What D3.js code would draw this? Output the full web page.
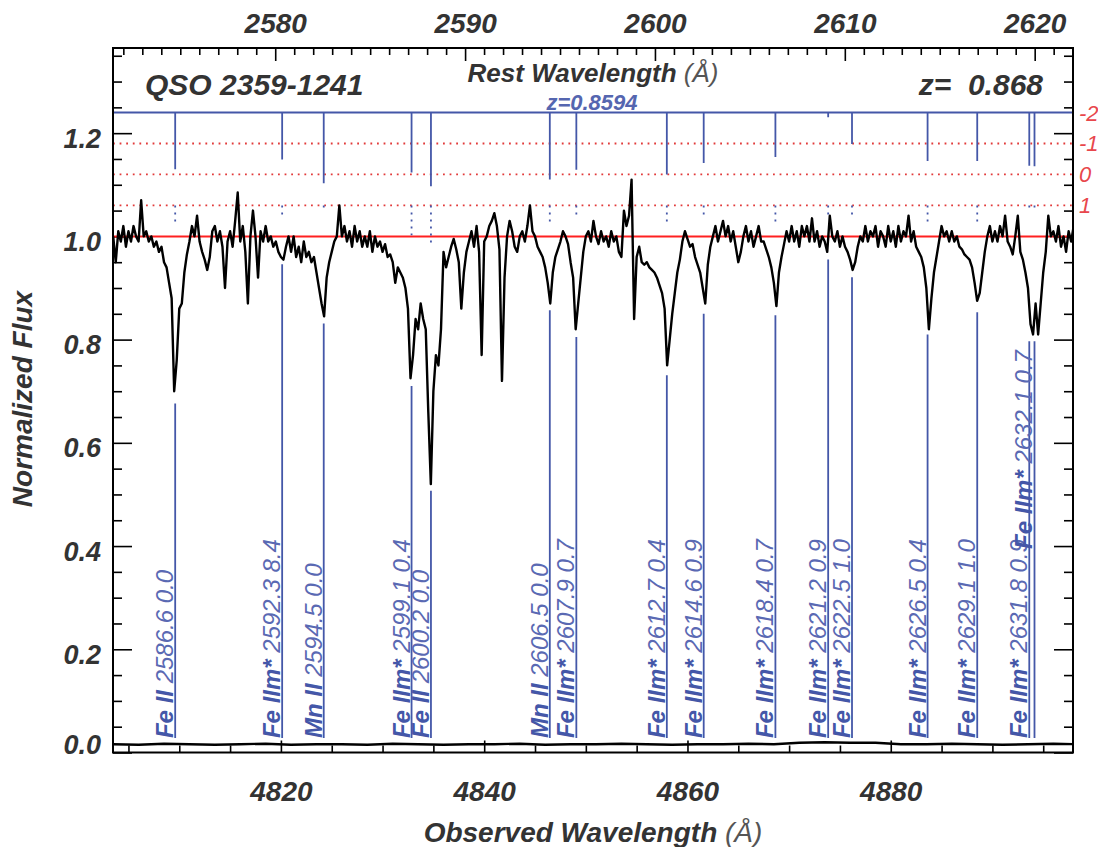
<!DOCTYPE html>
<html><head><meta charset="utf-8">
<script src="https://cdn.jsdelivr.net/npm/d3@7"></script>
<style>
body{margin:0;background:#fff}
svg{display:block}
text{font-family:"Liberation Sans",Arial,Helvetica,sans-serif}
</style>
</head><body>
<svg id="c" width="1098" height="847"></svg>
<script>
// ---------------- DATA ----------------
const zQSO = 0.868;
const zAbs = 0.8594;
const obsStart = 4803.5, obsStep = 0.25;
const flux = [
1.00,0.95,1.01,0.99,1.02,0.98,1.01,0.99,1.02,1.00,
0.99,1.07,1.00,1.01,0.99,1.00,0.98,0.99,0.97,0.98,
0.95,0.94,0.91,0.88,0.70,0.76,0.86,0.87,0.93,0.965,
0.99,1.02,1.00,1.04,0.99,0.97,0.955,0.935,0.96,1.01,
1.02,0.99,1.01,0.98,0.90,0.99,1.01,0.98,1.03,1.085,
0.99,1.02,0.97,0.87,1.00,1.05,1.00,0.92,1.01,0.99,
1.02,0.99,1.00,0.98,0.99,0.97,0.96,0.955,0.98,1.00,
0.97,1.00,0.96,0.98,0.95,0.99,0.96,0.97,0.95,0.96,
0.93,0.90,0.87,0.845,0.92,0.95,0.97,0.99,1.00,1.06,
1.00,1.02,0.99,1.01,0.98,1.02,0.99,1.01,0.98,1.00,
0.98,1.01,0.97,1.00,0.98,0.99,0.97,0.985,0.96,0.965,
0.95,0.91,0.94,0.93,0.92,0.90,0.86,0.725,0.77,0.84,
0.82,0.87,0.84,0.82,0.66,0.52,0.70,0.77,0.75,0.82,
0.97,0.94,0.96,0.98,0.995,0.975,0.95,0.86,0.93,0.97,
0.99,1.01,0.98,1.02,0.97,0.77,0.99,1.00,1.02,1.03,
1.045,1.02,0.975,0.72,0.92,1.00,1.03,1.01,0.98,0.97,
1.00,1.01,0.99,1.02,1.06,1.01,1.00,0.98,0.97,0.96,
0.94,0.91,0.87,0.93,0.96,0.975,0.99,1.01,1.00,0.985,
0.95,0.92,0.82,0.87,0.92,0.97,1.00,1.01,0.99,1.03,
1.00,0.985,1.01,0.99,1.00,0.98,1.01,0.99,1.00,0.97,
0.96,1.05,1.02,1.04,1.11,0.84,0.96,0.98,0.95,0.945,
0.95,0.94,0.935,0.93,0.92,0.905,0.89,0.86,0.75,0.80,
0.85,0.89,0.93,0.955,0.99,1.01,0.995,0.98,0.985,0.96,
0.945,0.93,0.90,0.87,0.945,0.98,1.00,1.02,0.99,1.01,
1.03,1.00,1.02,0.99,1.01,0.98,0.95,0.97,1.00,1.02,
0.99,1.01,0.98,1.00,1.02,0.99,0.99,0.975,0.96,0.94,
0.91,0.865,0.93,0.96,0.985,1.01,0.99,1.02,0.99,1.01,
0.98,1.02,1.00,1.02,0.99,1.035,0.99,1.01,0.98,1.00,
0.99,0.97,1.04,1.00,0.99,1.01,0.98,1.00,0.98,0.97,
0.955,0.935,0.95,0.98,1.00,0.99,1.02,0.99,1.01,1.00,
1.02,0.98,1.01,1.00,0.98,1.02,0.99,1.01,0.98,1.02,
0.99,1.01,1.00,1.04,0.99,1.01,0.98,0.97,0.96,0.94,
0.90,0.82,0.88,0.93,0.96,0.99,1.02,1.00,1.01,0.99,
1.01,0.99,1.00,0.98,0.975,0.965,0.96,0.955,0.94,0.91,
0.875,0.89,0.93,0.97,1.00,1.02,0.99,1.01,0.99,1.02,
1.00,1.04,0.99,0.98,0.965,1.00,1.04,0.97,0.955,0.93,
0.90,0.83,0.81,0.87,0.81,0.87,0.93,0.97,1.04,1.00,
1.01,0.99,1.02,0.98,1.00,0.97,1.01,0.99,1.02
];
const errStart = 4803.5, errStep = 2.5;
const errFlux = [
0.016,0.015,0.017,0.016,0.015,0.016,0.017,0.015,0.016,0.016,
0.015,0.017,0.016,0.015,0.016,0.016,0.017,0.015,0.016,0.016,
0.017,0.016,0.015,0.016,0.016,0.017,0.016,0.019,0.020,0.019,
0.019,0.016,0.016,0.017,0.016,0.015,0.016,0.017,0.016
];
const lineIon  = ["Fe II","Fe IIm*","Mn II","Fe IIm*","Fe II","Mn II","Fe IIm*","Fe IIm*","Fe IIm*","Fe IIm*","Fe IIm*","Fe IIm*","Fe IIm*","Fe IIm*","Fe IIm*","Fe IIm*"];
const lineRest = [2586.64,2592.30,2594.50,2599.147,2600.173,2606.462,2607.866,2612.654,2614.605,2618.399,2621.191,2622.452,2626.451,2629.078,2631.832,2632.108];
const lineVal  = [0.0,8.4,0.0,0.4,0.0,0.0,0.7,0.4,0.9,0.7,0.9,1.0,0.4,1.0,0.9,0.7];
const tickEnd  = [1.130,1.149,1.103,1.124,1.097,1.110,1.129,1.120,1.142,1.154,1.231,1.179,1.146,1.146,1.137,1.136];
const dotEnd   = [1.028,1.041,1.050,1.002,0.986,1.028,1.041,1.028,1.041,1.026,1.041,1.041,1.026,1.026,1.052,1.052];
const markTop  = [0.676,0.946,0.831,0.710,0.507,0.857,0.805,0.731,0.850,0.847,0.955,0.921,0.810,0.853,0.797,0.797];
const sigmaLabels = ["-2","-1","0","1"];
const sigmaFlux   = [1.24,1.18,1.12,1.06];
const yMajor = [0.0,0.2,0.4,0.6,0.8,1.0,1.2];
const obsMajor = [4820,4840,4860,4880];
const restMajor = [2580,2590,2600,2610,2620];

// ---------------- LAYOUT ----------------
const L=113,R=1073,T=48,B=752.5;
const svg = d3.select("#c");
const x = d3.scaleLinear().domain([4803.48,4897.93]).range([L,R]);
const xr = d3.scaleLinear().domain(x.domain().map(v=>v/(1+zQSO))).range([L,R]);
const y = d3.scaleLinear().domain([0,1.365]).range([B,T]);
const TXT="#333";

svg.append("defs").append("clipPath").attr("id","clip")
  .append("rect").attr("x",L).attr("y",T).attr("width",R-L).attr("height",B-T);

function styleAxis(g){ g.select(".domain").remove(); g.selectAll(".tick line").attr("stroke","#000").attr("stroke-width",1.6); }
function labelStyle(g,size){ g.selectAll("text").attr("fill",TXT).attr("font-size",size).attr("font-style","italic").attr("font-weight","bold").attr("font-family","Liberation Sans, Arial, sans-serif"); }

const obsMinor = d3.range(4805,4898,5).filter(v=>!obsMajor.includes(v));
const restMinor = d3.range(2572,2623,1).filter(v=>!restMajor.includes(v));
const yMinor = d3.range(0.05,1.37,0.05).map(v=>+v.toFixed(2)).filter(v=>!yMajor.some(m=>Math.abs(m-v)<1e-6));

// bottom
svg.append("g").attr("transform",`translate(0,${B})`).call(d3.axisBottom(x).tickValues(obsMinor).tickSize(-7).tickFormat("")).call(styleAxis);
svg.append("g").attr("transform",`translate(0,${B})`).call(d3.axisBottom(x).tickValues(obsMajor).tickSize(-12).tickPadding(29).tickFormat(d3.format("d")))
  .call(styleAxis).call(g=>labelStyle(g,28));
// top
svg.append("g").attr("transform",`translate(0,${T})`).call(d3.axisTop(xr).tickValues(restMinor).tickSize(-7).tickFormat("")).call(styleAxis);
svg.append("g").attr("transform",`translate(0,${T})`).call(d3.axisTop(xr).tickValues(restMajor).tickSize(-13).tickPadding(15).tickFormat(d3.format("d")))
  .call(styleAxis).call(g=>labelStyle(g,28));
// left
svg.append("g").attr("transform",`translate(${L},0)`).call(d3.axisLeft(y).tickValues(yMinor).tickSize(-9).tickFormat("")).call(styleAxis);
const gl = svg.append("g").attr("transform",`translate(${L},0)`).call(d3.axisLeft(y).tickValues(yMajor).tickSize(-19).tickPadding(12).tickFormat(d3.format(".1f")))
  .call(styleAxis).call(g=>labelStyle(g,27));
gl.selectAll("text").attr("dy",d=> d===0 ? "0.02em" : "0.52em");
// right
svg.append("g").attr("transform",`translate(${R},0)`).call(d3.axisRight(y).tickValues(yMinor).tickSize(-9).tickFormat("")).call(styleAxis);
svg.append("g").attr("transform",`translate(${R},0)`).call(d3.axisRight(y).tickValues(yMajor).tickSize(-19).tickFormat("")).call(styleAxis);

const plot = svg.append("g").attr("clip-path","url(#clip)");

// sigma reference lines
plot.selectAll(".sig").data(sigmaFlux.slice(1)).enter().append("line")
  .attr("x1",L).attr("x2",R).attr("y1",d=>y(d)).attr("y2",d=>y(d))
  .attr("stroke","#e23a3a").attr("stroke-width",1.8).attr("stroke-dasharray","1.8,4.8");
plot.append("line").attr("x1",L).attr("x2",R).attr("y1",y(1.0)).attr("y2",y(1.0))
  .attr("stroke","#ff2020").attr("stroke-width",2);
plot.append("line").attr("x1",L).attr("x2",R).attr("y1",y(sigmaFlux[0])).attr("y2",y(sigmaFlux[0]))
  .attr("stroke","#4457a8").attr("stroke-width",1.8);

// absorption line markers
const BLUE="#4457a8", LBLUE="#5a69b3";
const labelBase = 0.028;
const lx = lineRest.map(r=>x(r*(1+zAbs)));
lineRest.forEach((r,i)=>{
  const xp = lx[i];
  plot.append("line").attr("x1",xp).attr("x2",xp).attr("y1",y(sigmaFlux[0])).attr("y2",y(tickEnd[i]))
    .attr("stroke",BLUE).attr("stroke-width",1.8);
  plot.append("line").attr("x1",xp).attr("x2",xp).attr("y1",y(sigmaFlux[3])).attr("y2",y(dotEnd[i]))
    .attr("stroke",BLUE).attr("stroke-width",1.8).attr("stroke-dasharray","2,5");
  plot.append("line").attr("x1",xp).attr("x2",xp).attr("y1",y(markTop[i])).attr("y2",y(labelBase))
    .attr("stroke",BLUE).attr("stroke-width",1.8);
  const top = i>0 && (xp - lx[i-1]) < 10;
  const ty = top ? y(markTop[i])+9 : y(labelBase);
  const t = svg.append("text").attr("transform",`translate(${xp-2},${ty}) rotate(-90)`)
    .attr("text-anchor", top ? "end" : "start").attr("font-size",24).attr("font-style","italic").attr("fill",LBLUE);
  t.append("tspan").attr("font-weight","bold").attr("fill",BLUE).text(lineIon[i]);
  t.append("tspan").text(" "+r.toFixed(1)+" "+lineVal[i].toFixed(1));
});

// spectrum
const fline = d3.line().x((d,i)=>x(obsStart+i*obsStep)).y(d=>y(d));
plot.append("path").datum(flux).attr("d",fline).attr("fill","none").attr("stroke","#000").attr("stroke-width",2.4).attr("stroke-linejoin","round");
const eline = d3.line().x((d,i)=>x(errStart+i*errStep)).y(d=>y(d));
plot.append("path").datum(errFlux).attr("d",eline).attr("fill","none").attr("stroke","#000").attr("stroke-width",2.4);

// frame
svg.append("rect").attr("x",L).attr("y",T).attr("width",R-L).attr("height",B-T)
  .attr("fill","none").attr("stroke","#000").attr("stroke-width",2);

// sigma labels
svg.selectAll(".sl").data(sigmaLabels).enter().append("text")
  .attr("x",1079).attr("y",(d,i)=>y(sigmaFlux[i])+8)
  .attr("font-size",22).attr("font-style","italic").attr("fill","#e8474c").text(d=>d);

// titles
function title(txt, unit, xx, yy, size, rot){
  const t = svg.append("text").attr("text-anchor","middle").attr("font-size",size).attr("font-style","italic")
    .attr("transform",`translate(${xx},${yy})${rot?" rotate(-90)":""}`);
  t.append("tspan").attr("font-weight","bold").attr("fill",TXT).text(txt);
  if(unit) t.append("tspan").attr("fill","#555").text(" "+unit);
  return t;
}
title("Observed Wavelength","(Å)",593,842,28,false);
title("Rest Wavelength","(Å)",593,82,26,false);
title("Normalized Flux",null,32,399,28,true);
svg.append("text").attr("x",592).attr("y",110).attr("text-anchor","middle").attr("font-size",22)
  .attr("font-style","italic").attr("font-weight","bold").attr("fill","#5566b0").text("z="+zAbs.toFixed(4));
svg.append("text").attr("x",145).attr("y",95).attr("font-size",30)
  .attr("font-style","italic").attr("font-weight","bold").attr("fill",TXT).text("QSO 2359-1241");
svg.append("text").attr("x",1043).attr("y",95).attr("text-anchor","end").attr("font-size",30)
  .attr("font-style","italic").attr("font-weight","bold").attr("fill",TXT).text("z=  "+zQSO.toFixed(3)).style("white-space","pre");
</script>
</body></html>
